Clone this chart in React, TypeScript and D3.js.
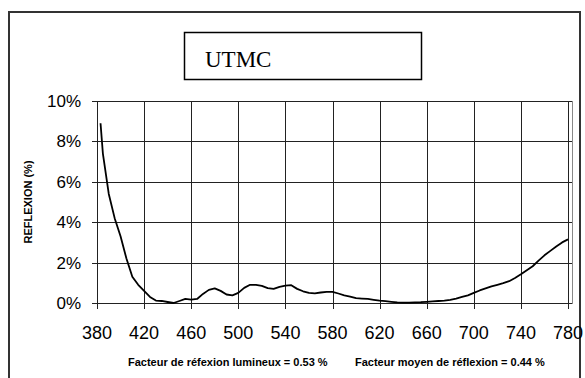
import React, { useEffect, useRef } from 'react';
import * as d3 from 'd3';

const wavelengths = [
  383, 385, 390, 395, 400, 405, 410, 415, 420, 425, 430, 435, 440, 445, 450, 455, 460,
  465, 470, 475, 480, 485, 490, 495, 500, 505, 510, 515, 520, 525, 530, 535, 540,
  545, 550, 555, 560, 565, 570, 575, 580, 585, 590, 595, 600, 605, 610, 615, 620,
  625, 630, 635, 640, 645, 650, 655, 660, 665, 670, 675, 680, 685, 690, 695, 700,
  705, 710, 715, 720, 725, 730, 735, 740, 745, 750, 755, 760, 765, 770, 775, 780,
];
const reflexion = [
  8.9, 7.4, 5.4, 4.2, 3.3, 2.2, 1.3, 0.9, 0.6, 0.3, 0.12, 0.1, 0.05, 0.0, 0.1, 0.2, 0.17,
  0.2, 0.45, 0.65, 0.72, 0.6, 0.42, 0.38, 0.5, 0.75, 0.9, 0.9, 0.85, 0.74, 0.7, 0.8, 0.86,
  0.88, 0.7, 0.58, 0.5, 0.48, 0.52, 0.55, 0.55, 0.47, 0.38, 0.32, 0.24, 0.22, 0.2, 0.16, 0.12,
  0.09, 0.06, 0.03, 0.02, 0.02, 0.03, 0.04, 0.06, 0.08, 0.1, 0.12, 0.16, 0.22, 0.3, 0.38, 0.5,
  0.62, 0.72, 0.82, 0.9, 0.98, 1.08, 1.24, 1.42, 1.62, 1.82, 2.1, 2.36, 2.58, 2.8, 3.0, 3.15,
];
const xTicks = [380, 420, 460, 500, 540, 580, 620, 660, 700, 740, 780];
const yTicks = [0, 2, 4, 6, 8, 10];

const title = 'UTMC';
const yLabel = 'REFLEXION (%)';
const noteLeft = 'Facteur de réfexion lumineux = 0.53 %';
const noteRight = 'Facteur moyen de réflexion = 0.44 %';

const sans = '"Liberation Sans", Arial, sans-serif';

const App = () => {
  const svgRef = useRef<SVGSVGElement>(null);

  useEffect(() => {
    const svg = d3.select(svgRef.current);
    svg.selectAll('*').remove();

    const left = 97, right = 568, top = 101, bottom = 303;
    const x = d3.scaleLinear().domain([380, 780]).range([left, right]);
    const y = d3.scaleLinear().domain([0, 10]).range([bottom, top]);
    const data = wavelengths.map((w, i) => ({ w, v: reflexion[i] }));

    // outer frame (bottom is cut off)
    svg.append('path')
      .attr('d', 'M9,378 V12 H580 V378')
      .attr('fill', 'none')
      .attr('stroke', '#333')
      .attr('stroke-width', 2);

    // title box
    svg.append('rect')
      .attr('x', 184.5).attr('y', 32.5)
      .attr('width', 237).attr('height', 47)
      .attr('fill', 'none').attr('stroke', '#000').attr('stroke-width', 1.5);
    svg.append('text')
      .attr('x', 205).attr('y', 67)
      .attr('font-family', '"Liberation Serif", "Times New Roman", serif')
      .attr('font-size', 23)
      .text(title);

    // gridlines
    svg.append('g')
      .selectAll('line')
      .data(yTicks)
      .join('line')
      .attr('x1', left - 5).attr('x2', right + 4)
      .attr('y1', d => Math.round(y(d)) + 0.5).attr('y2', d => Math.round(y(d)) + 0.5)
      .attr('stroke', '#222');
    svg.append('g')
      .selectAll('line')
      .data(xTicks)
      .join('line')
      .attr('x1', d => Math.round(x(d)) + 0.5).attr('x2', d => Math.round(x(d)) + 0.5)
      .attr('y1', top).attr('y2', bottom + 6)
      .attr('stroke', '#222');
    // right edge of the plot area
    svg.append('line')
      .attr('x1', right + 4.5).attr('x2', right + 4.5)
      .attr('y1', top).attr('y2', bottom + 1)
      .attr('stroke', '#888');

    // tick labels
    svg.append('g')
      .selectAll('text')
      .data(yTicks)
      .join('text')
      .attr('x', left - 16)
      .attr('y', d => y(d))
      .attr('dy', '0.35em')
      .attr('text-anchor', 'end')
      .attr('font-family', sans)
      .attr('font-size', 17)
      .text(d => `${d}%`);
    svg.append('g')
      .selectAll('text')
      .data(xTicks)
      .join('text')
      .attr('x', d => x(d))
      .attr('y', bottom + 36)
      .attr('text-anchor', 'middle')
      .attr('font-family', sans)
      .attr('font-size', 18)
      .text(d => d);

    // axis title
    svg.append('text')
      .attr('transform', `translate(32,${(top + bottom) / 2}) rotate(-90)`)
      .attr('text-anchor', 'middle')
      .attr('font-family', sans)
      .attr('font-weight', 'bold')
      .attr('font-size', 11)
      .text(yLabel);

    // notes under the chart
    svg.append('text')
      .attr('x', 128).attr('y', 366)
      .attr('font-family', sans)
      .attr('font-weight', 'bold')
      .attr('font-size', 11)
      .text(noteLeft);
    svg.append('text')
      .attr('x', 355).attr('y', 366)
      .attr('font-family', sans)
      .attr('font-weight', 'bold')
      .attr('font-size', 11)
      .text(noteRight);

    const line = d3.line<{ w: number; v: number }>()
      .x(d => x(d.w))
      .y(d => y(d.v));

    svg.append('path')
      .datum(data)
      .attr('fill', 'none')
      .attr('stroke', '#000')
      .attr('stroke-width', 1.8)
      .attr('stroke-linejoin', 'round')
      .attr('d', line);
  }, []);

  return (
    <svg
      ref={svgRef}
      width={585}
      height={378}
      style={{ position: 'absolute', left: 0, top: 0, background: '#fff' }}
    />
  );
};

export default App;
